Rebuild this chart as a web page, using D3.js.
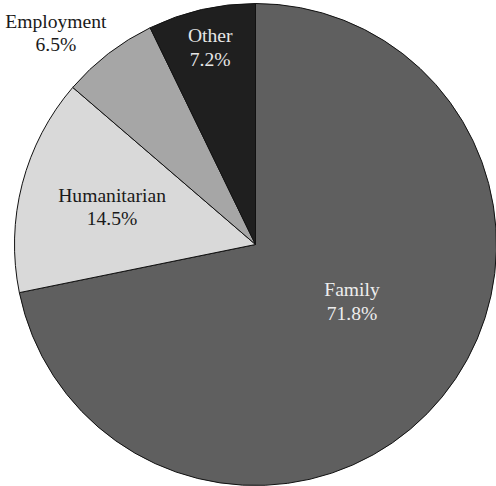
<!DOCTYPE html>
<html>
<head>
<meta charset="utf-8">
<script src="https://cdn.jsdelivr.net/npm/d3@7"></script>
<style>
  body { margin: 0; background: #fff; }
  svg { display: block; }
  .PieChart text { font-family: "Liberation Serif", "Times New Roman", Times, serif; }
</style>
</head>
<body>
<div class="PieChart"></div>
<script>
// data
const categories = ["Family", "Humanitarian", "Employment", "Other"];
const shares = [71.8, 14.5, 6.5, 7.2];

// styling
const fills = ["#5f5f5f", "#d9d9d9", "#a6a6a6", "#1f1f1f"];
const textFills = ["#ededed", "#1a1a1a", "#1a1a1a", "#e6e6e6"];
const labelRadius = [0.465, 0.615, 1.207, 0.838];   // fraction of pie radius
const labelShift = [-8.7, 0, -5.7, 0];              // degrees

const width = 496, height = 486;
const cx = 255.5, cy = 244.5, radius = 241;

const svg = d3.select(".PieChart").append("svg")
  .attr("width", width)
  .attr("height", height);

const g = svg.append("g")
  .attr("transform", `translate(${cx},${cy})`);

const pie = d3.pie()
  .sort(null)
  .value(d => d.value);

const arcs = pie(categories.map((c, i) => ({ name: c, value: shares[i], i })));

const arc = d3.arc()
  .innerRadius(0)
  .outerRadius(radius);

//slices
g.selectAll("path")
  .data(arcs)
  .join("path")
  .attr("d", arc)
  .attr("fill", d => fills[d.data.i])
  .attr("stroke", "#111")
  .attr("stroke-width", 1)
  .attr("stroke-linejoin", "miter");

//labels
const lineGap = 23.3;
const labels = g.selectAll("text")
  .data(arcs)
  .join("text")
  .attr("font-size", 19.6)
  .attr("text-anchor", "middle")
  .attr("fill", d => textFills[d.data.i])
  .attr("transform", d => {
    const a = (d.startAngle + d.endAngle) / 2 + labelShift[d.data.i] * Math.PI / 180;
    const r = radius * labelRadius[d.data.i];
    return `translate(${r * Math.sin(a)},${-r * Math.cos(a)})`;
  });

labels.append("tspan")
  .attr("x", 0)
  .attr("y", -5.2)
  .text(d => d.data.name);

labels.append("tspan")
  .attr("x", 0)
  .attr("y", -5.2 + lineGap)
  .text(d => d.data.value.toFixed(1) + "%");
</script>
</body>
</html>
